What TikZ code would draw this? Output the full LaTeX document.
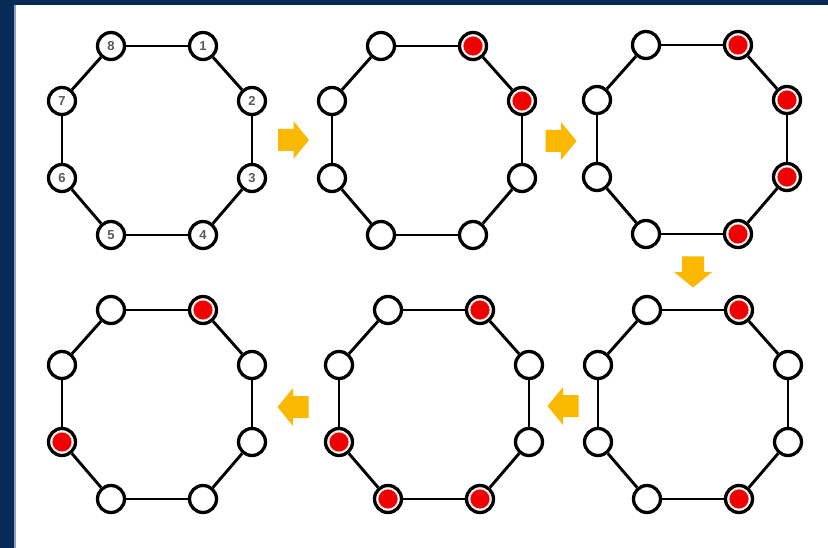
\documentclass[tikz,border=0pt]{standalone}
\usepackage{fontspec}
\setsansfont{Liberation Sans}
\definecolor{navy}{RGB}{8,42,86}
\definecolor{edgeblue}{RGB}{140,160,195}
\definecolor{arrowgold}{RGB}{250,184,0}
\definecolor{beadred}{RGB}{240,0,0}
\begin{document}
\begin{tikzpicture}[x=1pt,y=-1pt,
  bead/.style={circle, draw=black, line width=3.3pt, fill=white,
    minimum size=27pt, inner sep=0pt,
    font=\sffamily\bfseries\fontsize{13}{13}\selectfont, text=black!65},
  lit/.style={path picture={\fill[beadred, draw=black!15, line width=0.8pt]
    (path picture bounding box.center) circle[radius=10pt];}},
  link/.style={line width=2.9pt, draw=black},
  flow/.style={fill=arrowgold, draw=none},
  % beads that are switched on in each ring
  s-b-1/.style=lit, s-b-2/.style=lit,
  s-c-1/.style=lit, s-c-2/.style=lit, s-c-3/.style=lit, s-c-4/.style=lit,
  s-d-1/.style=lit, s-d-4/.style=lit,
  s-e-1/.style=lit, s-e-4/.style=lit, s-e-5/.style=lit, s-e-6/.style=lit,
  s-f-1/.style=lit, s-f-6/.style=lit
]
\useasboundingbox (0,0) rectangle (828,548);
% frame
\fill[navy] (0,0) rectangle (828,548);
\fill[white] (15,5) rectangle (828,548);
\draw[edgeblue, line width=1.2pt] (15,5) -- (15,548);

% rings of eight beads
\foreach \p/\cx/\cy in {a/157/141, b/427/141, c/692/140, d/693/405, e/434/405, f/157/405}{
  \foreach \k/\dx/\dy in {1/46/-95, 2/95/-40, 3/95/37, 4/46/94,
                          5/-46/94, 6/-95/37, 7/-95/-40, 8/-46/-95}{
    \node[bead, s-\p-\k/.try] (\p\k) at (\cx+\dx,\cy+\dy) {\if a\p\k\fi};
  }
  \foreach \i/\j in {1/2, 2/3, 3/4, 4/5, 5/6, 6/7, 7/8, 8/1}{
    \draw[link] (\p\i) -- (\p\j);
  }
}

% block arrows between the steps
\foreach \ax/\ay/\rot in {293.5/140/0, 561/141/0, 693/272/-90, 563/406/180, 293/407/180}{
  \fill[flow, shift={(\ax,\ay)}, rotate=\rot]
    (-15.5,-11) -- (0,-11) -- (0,-19) -- (15.5,0) -- (0,19) -- (0,11) -- (-15.5,11) -- cycle;
}
\end{tikzpicture}
\end{document}
